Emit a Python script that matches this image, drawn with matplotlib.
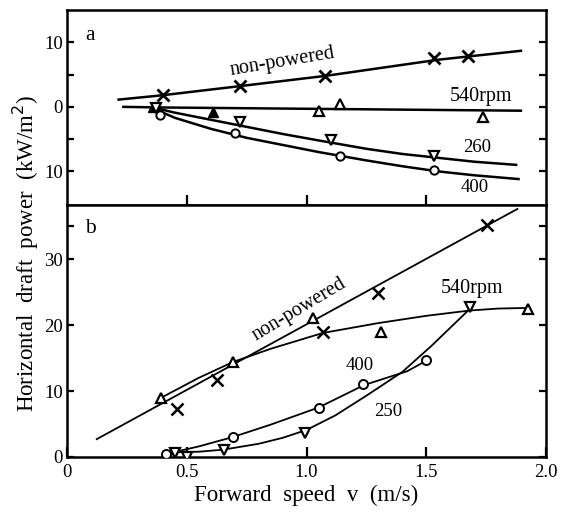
import matplotlib
matplotlib.use("Agg")
import matplotlib.pyplot as plt
from matplotlib.ticker import FixedLocator, FixedFormatter

plt.rcParams['font.family'] = ['Liberation Serif', 'DejaVu Serif']

# ---------------- panel a: net draft power with PTO-driven rotor ----------------
a_nonpowered_v = [0.40, 0.72, 1.075, 1.53, 1.675]
a_nonpowered_p = [1.8, 3.2, 4.8, 7.5, 7.8]
a_540_v = [0.36, 0.61, 1.05, 1.14, 1.735]
a_540_p = [0.0, -0.8, -0.65, 0.4, -1.55]
a_260_v = [0.37, 0.72, 1.10, 1.53]
a_260_p = [-0.2, -2.3, -5.2, -7.6]
a_400_v = [0.39, 0.70, 1.14, 1.53]
a_400_p = [-1.3, -4.0, -7.6, -9.8]

# fitted curves (panel a)
a_fit_nonpowered_v = [0.21, 0.40, 0.72, 1.08, 1.55, 1.90]
a_fit_nonpowered_p = [1.1, 1.8, 3.2, 4.8, 7.3, 8.7]
a_fit_540_v = [0.23, 0.40, 1.00, 1.90]
a_fit_540_p = [0.0, -0.1, -0.3, -0.6]
a_fit_260_v = [0.37, 0.45, 0.60, 0.75, 0.90, 1.05, 1.25, 1.40, 1.55, 1.70, 1.88]
a_fit_260_p = [-0.2, -0.9, -2.0, -3.1, -4.2, -5.2, -6.5, -7.3, -7.9, -8.5, -9.0]
a_fit_400_v = [0.37, 0.45, 0.60, 0.75, 0.90, 1.05, 1.25, 1.40, 1.55, 1.70, 1.89]
a_fit_400_p = [-0.4, -1.7, -3.4, -4.8, -5.9, -7.0, -8.3, -9.2, -10.0, -10.6, -11.2]

# ---------------- panel b: horizontal draft power ----------------
b_nonpowered_v = [0.46, 0.624, 1.068, 1.297, 1.755]
b_nonpowered_p = [7.3, 11.6, 19.0, 24.8, 35.2]
b_540_v = [0.394, 0.693, 1.026, 1.311, 1.926]
b_540_p = [9.0, 14.4, 21.0, 18.9, 22.5]
b_250_v = [0.45, 0.50, 0.656, 0.995, 1.683]
b_250_p = [0.6, 0.0, 1.1, 3.6, 22.8]
b_400_v = [0.415, 0.693, 1.05, 1.235, 1.499]
b_400_p = [0.5, 3.1, 7.4, 11.0, 14.7]

# fitted curves (panel b)
b_fit_nonpowered_v = [0.124, 1.88]
b_fit_nonpowered_p = [2.7, 37.6]
b_fit_540_v = [0.394, 0.55, 0.693, 0.85, 1.068, 1.30, 1.50, 1.68, 1.80, 1.93]
b_fit_540_p = [9.0, 12.0, 14.4, 16.4, 18.8, 20.3, 21.4, 22.2, 22.5, 22.6]
b_fit_400_v = [0.43, 0.55, 0.69, 0.85, 1.05, 1.24, 1.42, 1.50]
b_fit_400_p = [0.6, 1.6, 3.0, 4.9, 7.5, 10.9, 13.0, 14.6]
b_fit_250_v = [0.44, 0.55, 0.65, 0.80, 0.90, 1.00, 1.12, 1.25, 1.40, 1.52, 1.60, 1.683]
b_fit_250_p = [0.7, 0.8, 1.1, 2.0, 2.9, 4.1, 6.3, 9.3, 12.9, 16.8, 19.6, 22.5]

x_ticks = [0.0, 0.5, 1.0, 1.5, 2.0]
x_tick_labels = ['0', '0.5', '1.0', '1.5', '2.0']
a_y_ticks = [-10, 0, 10]
a_y_tick_labels = ['10', '0', '10']
b_y_ticks = [0, 10, 20, 30]
b_y_tick_labels = ['0', '10', '20', '30']

FS_TICK = 13.5
FS_NUM = 13.5
FS_WORD = 14.5
FS_AXIS = 16.5

fig = plt.figure(figsize=(5.69, 5.17), dpi=100)
ax_a = fig.add_axes([0.1178, 0.6035, 0.842, 0.3772])
ax_b = fig.add_axes([0.1178, 0.1161, 0.842, 0.4874])

open_style = dict(linestyle='none', color='black', markerfacecolor='white', zorder=4)

# panel a
for v, p in [(a_fit_nonpowered_v, a_fit_nonpowered_p), (a_fit_540_v, a_fit_540_p),
             (a_fit_260_v, a_fit_260_p), (a_fit_400_v, a_fit_400_p)]:
    ax_a.plot(v, p, color='black', lw=1.8, solid_capstyle='butt', zorder=2)
ax_a.plot(a_nonpowered_v, a_nonpowered_p, linestyle='none', marker='x', color='black',
          markersize=8, markeredgewidth=2.0, zorder=4)
ax_a.plot(a_540_v[2:], a_540_p[2:], marker='^', markersize=7, markeredgewidth=1.6, **open_style)
ax_a.plot(a_540_v[:2], a_540_p[:2], linestyle='none', marker='^', color='black',
          markersize=7, zorder=4)
ax_a.plot(a_260_v, a_260_p, marker='v', markersize=7, markeredgewidth=1.6, **open_style)
ax_a.plot(a_400_v, a_400_p, marker='o', markersize=6, markeredgewidth=1.4, **open_style)

ax_a.text(0.90, 7.0, 'non-powered', fontsize=FS_WORD, rotation=9.5, ha='center', va='center')
ax_a.text(1.73, 1.6, '540rpm', fontsize=FS_WORD, ha='center', va='center')
ax_a.text(1.71, -6.3, '260', fontsize=FS_NUM, ha='center', va='center')
ax_a.text(1.70, -12.5, '400', fontsize=FS_NUM, ha='center', va='center')
ax_a.text(0.096, 11.0, 'a', fontsize=FS_WORD + 1, ha='center', va='center')

ax_a.set_xlim(0, 2.0)
ax_a.set_ylim(-15.2, 15.0)
ax_a.xaxis.set_major_locator(FixedLocator([0.5, 1.0, 1.5]))
ax_a.tick_params(axis='x', direction='in', length=7, width=1.6, labelbottom=False)
ax_a.yaxis.set_major_locator(FixedLocator(a_y_ticks))
ax_a.yaxis.set_major_formatter(FixedFormatter(a_y_tick_labels))
ax_a.yaxis.set_minor_locator(FixedLocator([-5, 5]))
ax_a.tick_params(axis='y', which='both', direction='in', length=5, width=1.6,
                 right=True, labelsize=FS_TICK, pad=3)

# panel b
for v, p in [(b_fit_nonpowered_v, b_fit_nonpowered_p), (b_fit_540_v, b_fit_540_p),
             (b_fit_400_v, b_fit_400_p), (b_fit_250_v, b_fit_250_p)]:
    ax_b.plot(v, p, color='black', lw=1.3, zorder=2)
ax_b.plot(b_nonpowered_v, b_nonpowered_p, linestyle='none', marker='x', color='black',
          markersize=8, markeredgewidth=1.8, zorder=4)
ax_b.plot(b_540_v, b_540_p, marker='^', markersize=7, markeredgewidth=1.6, **open_style)
ax_b.plot(b_250_v, b_250_p, marker='v', markersize=7, markeredgewidth=1.6, **open_style)
ax_b.plot(b_400_v, b_400_p, marker='o', markersize=6.5, markeredgewidth=1.4, **open_style)

ax_b.text(0.97, 22.4, 'non-powered', fontsize=FS_WORD, rotation=31, ha='center', va='center')
ax_b.text(1.69, 25.6, '540rpm', fontsize=FS_WORD, ha='center', va='center')
ax_b.text(1.22, 13.9, '400', fontsize=FS_NUM, ha='center', va='center')
ax_b.text(1.34, 6.9, '250', fontsize=FS_NUM, ha='center', va='center')
ax_b.text(0.096, 34.7, 'b', fontsize=FS_WORD + 1, ha='center', va='center')

ax_b.set_xlim(0, 2.0)
ax_b.set_ylim(0, 38.2)
ax_b.xaxis.set_major_locator(FixedLocator(x_ticks))
ax_b.xaxis.set_major_formatter(FixedFormatter(x_tick_labels))
ax_b.tick_params(axis='x', direction='in', length=7, width=1.6, labelsize=FS_TICK, pad=5)
ax_b.yaxis.set_major_locator(FixedLocator(b_y_ticks))
ax_b.yaxis.set_major_formatter(FixedFormatter(b_y_tick_labels))
ax_b.yaxis.set_minor_locator(FixedLocator([35]))
ax_b.tick_params(axis='y', which='both', direction='in', length=5, width=1.6,
                 right=True, labelsize=FS_TICK, pad=3)
ax_b.set_xlabel('Forward  speed  v  (m/s)', fontsize=FS_AXIS, labelpad=3)

for ax in (ax_a, ax_b):
    for s in ax.spines.values():
        s.set_linewidth(1.8)

fig.text(0.046, 0.51, 'Horizontal  draft  power  (kW/m$^2$)', fontsize=FS_AXIS,
         rotation=90, ha='center', va='center')

fig.savefig('out.png', dpi=100)
